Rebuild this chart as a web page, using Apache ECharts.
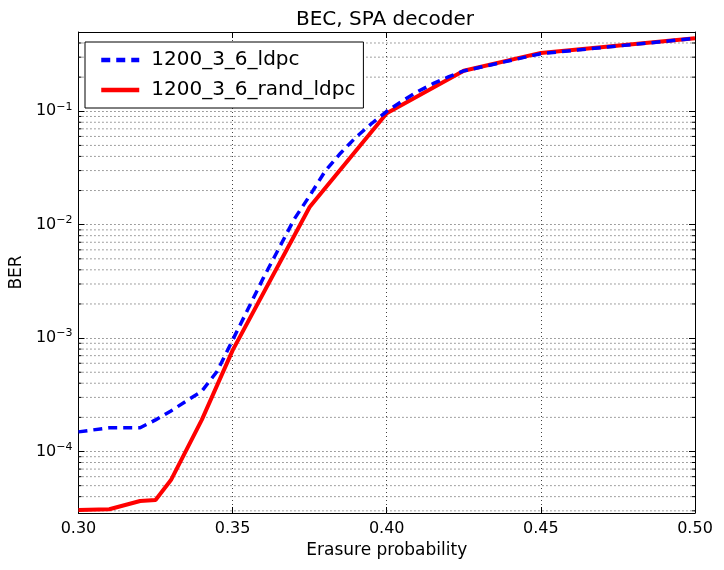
<!DOCTYPE html>
<html>
<head>
<meta charset="utf-8">
<script src="https://cdn.jsdelivr.net/npm/echarts@6/dist/echarts.min.js"></script>
<style>
html,body{margin:0;padding:0;background:#fff;}
#main{width:724px;height:570px;}
</style>
</head>
<body>
<div id="main"></div>
<script>
// ---- data ----
const titleText = 'BEC, SPA decoder';
const xName = 'Erasure probability';
const yName = 'BER';
const seriesNames = ['1200_3_6_ldpc', '1200_3_6_rand_ldpc'];

const ldpcX = [0.30, 0.31, 0.32, 0.325, 0.33, 0.34, 0.345, 0.35, 0.36, 0.37, 0.375, 0.38, 0.385, 0.39, 0.395, 0.40, 0.405, 0.41, 0.415, 0.42, 0.425, 0.45, 0.50];
const ldpcY = [1.49e-4, 1.62e-4, 1.62e-4, 1.9e-4, 2.28e-4, 3.4e-4, 5.1e-4, 9.6e-4, 3.4e-3, 1.12e-2, 1.8e-2, 2.96e-2, 4.27e-2, 5.9e-2, 7.76e-2, 0.100, 0.123, 0.149, 0.175, 0.201, 0.227, 0.322, 0.440];

const randX = [0.30, 0.31, 0.32, 0.325, 0.33, 0.34, 0.35, 0.375, 0.40, 0.425, 0.45, 0.50];
const randY = [3.05e-5, 3.1e-5, 3.66e-5, 3.74e-5, 5.6e-5, 1.9e-4, 7.8e-4, 1.43e-2, 0.096, 0.228, 0.327, 0.440];

const xMin = 0.30, xMax = 0.50, xStep = 0.05;
const yMin = 2.87e-5, yMax = 0.5;

// minor log gridline positions (2..9 x 10^k) inside the y range
const minorVals = [];
for (let k = -5; k <= 0; k++) {
  for (let m = 2; m <= 9; m++) {
    const v = m * Math.pow(10, k);
    if (v > yMin && v < yMax) minorVals.push(v);
  }
}

const zip = (xs, ys) => xs.map((x, i) => [x, ys[i]]);

const chart = echarts.init(document.getElementById('main'), null, {renderer: 'canvas'});
const FONT = 'DejaVu Sans';
const gridLine = {show: true, lineStyle: {color: '#444', width: 1, type: [1, 3]}};

const yLabelFmt = function (v) {
  const l = Math.log10(v);
  const e = Math.round(l);
  if (Math.abs(l - e) > 1e-6) return '';
  return '{b|10}{s|' + (e < 0 ? '\u2212' + (-e) : e) + '}';
};

chart.setOption({
  animation: false,
  backgroundColor: '#fff',
  textStyle: {fontFamily: FONT},
  title: {
    text: titleText, left: 380, top: 5, textAlign: 'center',
    textStyle: {fontFamily: FONT, fontSize: 20, fontWeight: 'normal', color: '#000'}
  },
  grid: {left: 75, right: 29, top: 32, bottom: 57, containLabel: false},
  legend: {
    data: seriesNames.map(n => ({name: n})),
    orient: 'vertical', left: 85, top: 42,
    backgroundColor: '#fff', borderColor: '#000', borderWidth: 1, borderRadius: 0,
    padding: [8, 8, 8, 14], itemGap: 10, itemWidth: 38, itemHeight: 20,
    itemStyle: {opacity: 0},
    lineStyle: {width: 4.5},
    textStyle: {fontFamily: FONT, fontSize: 20, color: '#000', padding: [0, 0, 0, 7]}
  },
  xAxis: [{
    type: 'value', min: xMin, max: xMax, interval: xStep,
    name: xName, nameLocation: 'middle', nameGap: 29,
    nameTextStyle: {fontFamily: FONT, fontSize: 17, color: '#000'},
    axisLine: {show: true, lineStyle: {color: '#000', width: 1}},
    axisTick: {show: true, inside: true, length: 6, lineStyle: {color: '#000'}},
    axisLabel: {fontFamily: FONT, fontSize: 16, color: '#000', margin: 8, formatter: v => v.toFixed(2)},
    splitLine: gridLine
  }, {
    type: 'value', min: xMin, max: xMax, interval: xStep, position: 'top',
    axisLine: {show: true, lineStyle: {color: '#000', width: 1}},
    axisTick: {show: true, inside: true, length: 6, lineStyle: {color: '#000'}},
    axisLabel: {show: false}, splitLine: {show: false}
  }],
  yAxis: [{
    type: 'log', logBase: 10, min: yMin, max: yMax,
    name: yName, nameLocation: 'middle', nameGap: 41,
    nameTextStyle: {fontFamily: FONT, fontSize: 17, color: '#000'},
    axisLine: {show: true, lineStyle: {color: '#000', width: 1}},
    axisTick: {show: true, inside: true, length: 6, lineStyle: {color: '#000'}},
    axisLabel: {
      fontFamily: FONT, color: '#000', margin: 6, formatter: yLabelFmt,
      rich: {
        b: {fontFamily: FONT, fontSize: 16, color: '#000'},
        s: {fontFamily: FONT, fontSize: 11, color: '#000', verticalAlign: 'bottom', padding: [0, 0, 9, 0]}
      }
    },
    splitLine: gridLine
  }, {
    type: 'log', logBase: 10, min: yMin, max: yMax, position: 'right',
    axisLine: {show: true, lineStyle: {color: '#000', width: 1}},
    axisTick: {show: true, inside: true, length: 6, lineStyle: {color: '#000'}},
    axisLabel: {show: false}, splitLine: {show: false}
  }],
  series: [{
    type: 'custom', name: 'minor', silent: true, z: 1,
    xAxisIndex: 0, yAxisIndex: 0,
    data: minorVals.map(v => [xMin, v]),
    encode: {x: 0, y: 1},
    renderItem: function (params, api) {
      const cs = params.coordSys;
      const y = api.coord([xMin, api.value(1)])[1];
      const x0 = cs.x, x1 = cs.x + cs.width;
      return {
        type: 'group',
        children: [
          {type: 'line', shape: {x1: x0, y1: y, x2: x1, y2: y},
           style: {stroke: '#444', lineWidth: 1, lineDash: [1, 3]}},
          {type: 'line', shape: {x1: x0, y1: y, x2: x0 + 3, y2: y},
           style: {stroke: '#000', lineWidth: 1}},
          {type: 'line', shape: {x1: x1 - 3, y1: y, x2: x1, y2: y},
           style: {stroke: '#000', lineWidth: 1}}
        ]
      };
    }
  }, {
    type: 'line', name: seriesNames[0], data: zip(ldpcX, ldpcY),
    showSymbol: false, symbol: 'none', z: 4,
    lineStyle: {color: '#0000ff', width: 3.5, type: [9, 6], cap: 'butt'},
    itemStyle: {color: '#0000ff'}
  }, {
    type: 'line', name: seriesNames[1], data: zip(randX, randY),
    showSymbol: false, symbol: 'none', z: 3,
    lineStyle: {color: '#ff0000', width: 4},
    itemStyle: {color: '#ff0000'}
  }]
});
</script>
</body>
</html>
